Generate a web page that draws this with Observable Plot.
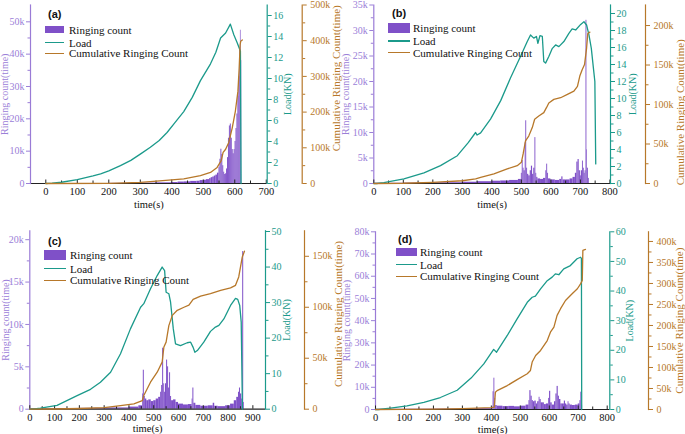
<!DOCTYPE html>
<html><head><meta charset="utf-8">
<script src="https://cdn.jsdelivr.net/npm/d3@7"></script>
<script src="https://cdn.jsdelivr.net/npm/@observablehq/plot@0.6"></script>
<style>
body{margin:0;background:#fff;}
#root{position:relative;width:685px;height:434px;overflow:hidden;font-family:"Liberation Serif",serif;background:#fff;}
.layer{position:absolute;}
.layer svg{overflow:visible;}
.lg{position:absolute;font-size:11px;white-space:nowrap;line-height:12px;height:12px;color:#111;font-family:"Liberation Serif",serif;}
.lab{position:absolute;font-size:11px;font-weight:bold;line-height:12px;font-family:"Liberation Sans",Arial,sans-serif;color:#111;}
.sw{position:absolute;}
</style></head><body><div id="root"></div>
<script>
// ---------- data: panel (a) ----------
const ringTA = [200,250,300,350,400,420,440,460,480,490,500,510,520,525,530,535,540,545,550,553,556,559,562,565,568,571,574,577,580,583,586,589,592,595,598,601,604,607,610,613,616,618,620,622];
const ringVA = [50,80,120,200,300,450,500,650,700,900,1000,1200,1500,1800,2000,2300,2600,3200,5000,7500,10600,9000,5500,3500,2800,3000,4500,8000,14000,17800,18400,14000,10500,9200,10500,13000,17000,21500,27000,33000,42000,47400,38000];
const loadTA = [0,20,50,100,150,174,200,237,270,300,332,360,385,410,438,465,491,523,540,555,571,586,597,608,618,620];
const loadVA = [0,0.03,0.12,0.37,0.72,0.92,1.2,1.7,2.2,2.8,3.45,4.1,4.86,5.8,6.85,8.2,9.8,11.4,12.5,13.85,14.33,15.18,14.17,13.38,12.6,0];
const cumTA = [0,200,250,300,332,400,438,491,523,544,557,563,571,581,592,602,610,614,617,619,621,624];
const cumVA = [0,500,1500,3000,5500,10000,13000,22000,31000,45000,64000,87000,96000,115000,156000,203000,258000,323000,388000,399000,400000,402000];
// ---------- data: panel (b) ----------
const ringTB = [0,100,200,300,350,400,430,460,490,500,503,506,509,513,515,518,521,525,530,534,538,542,546,549,552,556,565,575,583,586,589,592,600,615,630,637,641,650,665,675,683,688,692,696,700,703,707,710,713,716,719,722,724,727,730];
const ringVB = [50,80,150,250,350,450,500,600,800,2000,4500,3000,2500,8000,12300,3000,1800,1500,2500,3400,1800,3000,9000,2000,1200,900,800,1000,2500,3800,2000,900,700,600,800,1300,700,700,900,1200,2000,4200,4700,2500,1500,2500,4400,3000,2000,2500,32000,6600,3000,1000];
const loadTB = [0,10,34,102,170,226,283,320,345,350,362,396,430,463,497,520,531,542,551,556,563,571,576,582,593,605,616,627,644,661,672,684,701,712,721,729,737,744,749,752];
const loadVB = [0,0,0.1,0.55,1.25,2.1,3.27,4.8,6.0,5.7,5.95,7.6,9.75,12.4,14.94,16.7,17.48,17.1,17.3,16.5,17.4,17.3,14.36,14.16,14.94,15.9,16.3,16.1,16.7,17.66,18.18,18.06,18.72,19.03,18.65,17.48,15.9,13.6,12.0,2.3];
const cumTB = [0,100,200,300,345,362,407,452,486,500,506,514,525,537,545,559,576,585,593,610,633,656,678,690,698,706,714,721,725,732];
const cumVB = [0,300,1500,3500,5900,7900,12200,18500,22600,26800,37400,54000,60000,70800,81400,85500,89700,96000,102000,106500,108600,112800,117000,123000,136000,144000,150600,171500,190000,191600];
// ---------- data: panel (c) ----------
const ringTC = [0,100,200,300,400,440,455,458,462,466,472,480,490,500,510,520,528,532,536,540,543,547,552,556,560,564,568,572,580,590,600,620,640,655,658,662,670,690,720,740,746,760,790,810,825,835,842,846,850,855,859,863,866];
const ringVC = [30,60,100,150,250,400,1800,4600,1500,1200,1000,1100,900,1000,1200,1400,2000,2800,7200,3000,2000,3000,5800,5000,2500,4300,1500,1000,1100,800,600,500,550,1200,2500,700,450,350,400,700,350,300,400,600,1000,1400,2000,2500,1800,1200,18600,800];
const loadTC = [0,10,43,110,191,245,285,326,366,406,447,460,487,514,534,544,550,561,568,579,588,608,635,649,659,666,676,702,729,749,763,783,810,830,839,847,853,858];
const loadVC = [0,0,0.3,1.1,3.8,5.6,7.6,10.4,15.6,22.6,28.7,29.7,33.9,37.6,40,39,32.9,32.5,30.1,22.6,18.4,17.9,18.7,18.85,17.4,16.0,16.5,18.85,21.9,23.1,23.6,25.4,29.2,31.2,30.9,29.2,24.5,0];
const cumTC = [0,100,200,300,366,420,454,460,487,514,534,541,550,561,575,595,622,642,659,689,729,770,810,830,843,857,866];
const cumVC = [0,200,700,1500,3600,5300,8500,13500,26500,36300,46200,61000,65800,82000,92000,97000,100000,102000,107700,111000,113400,116600,119000,121500,129700,149000,155000];
// ---------- data: panel (d) ----------
const ringTD = [0,100,200,300,400,406,409,412,415,420,440,460,480,500,520,530,533,537,541,545,550,555,560,565,568,572,577,583,590,598,601,605,610,618,623,627,631,635,640,645,652,656,660,665,668,672,680,690,700,706,709,712,715];
const ringVD = [100,150,200,400,700,8000,14100,5000,1800,1500,1300,1400,1200,1500,2000,4000,8500,6000,4000,3500,3800,2500,3500,5500,4500,3000,3000,2200,2500,5000,8200,3000,2000,3500,7000,10400,6000,4500,2500,2500,3800,2500,2000,3500,2500,2000,1800,2000,2500,4000,7800,2000];
const loadTD = [0,10,52,109,167,224,282,330,374,408,418,455,489,524,541,552,570,593,610,621,633,650,673,696,708,711,712];
const loadVD = [0,0,0.45,1.25,2.4,4.05,6.5,10.6,15.4,20.3,19.35,25,30.6,36.2,37.9,38.25,40.7,43.5,44.7,45.8,45.5,47.5,48.6,50.9,51.4,51.0,0];
const cumTD = [0,100,200,300,400,410,414,420,455,489,524,535,541,553,570,593,604,616,627,639,656,679,697,708,714,716,725];
const cumVD = [0,300,800,2000,4500,5500,41000,45000,57000,71000,85000,93000,113000,128600,140500,164000,184000,196000,224000,240000,259500,275500,287400,299000,307000,378600,381000];

// ---------- tick labels ----------
const xTicksA = [0,100,200,300,400,500,600,700];
const xTicksB = [0,100,200,300,400,500,600,700,800];
const xTicksC = [0,100,200,300,400,500,600,700,800,900];
const xTicksD = [0,100,200,300,400,500,600,700,800];
const ringTicksA = [0,10000,20000,30000,40000,50000];
const ringTicksB = [0,5000,10000,15000,20000,25000,30000,35000];
const ringTicksC = [0,5000,10000,15000,20000];
const ringTicksD = [0,10000,20000,30000,40000,50000,60000,70000,80000];
const loadTicksA = [0,2,4,6,8,10,12,14,16];
const loadTicksB = [0,2,4,6,8,10,12,14,16,18,20];
const loadTicksC = [0,10,20,30,40,50];
const loadTicksD = [0,10,20,30,40,50,60];
const cumTicksA = [0,100000,200000,300000,400000,500000];
const cumTicksB = [0,50000,100000,150000,200000];
const cumTicksC = [0,50000,100000,150000];
const cumTicksD = [0,50000,100000,150000,200000,250000,300000,350000,400000];
const panelLabels = ["(a)","(b)","(c)","(d)"];
const legendNames = ["Ringing count","Load","Cumulative Ringing Count"];
const axisNames = {x:"time(s)", ring:"Ringing count(time)", load:"Load(KN)", cum:"Cumulative Ringing Count(time)"};

// ---------- helpers ----------
const C_BAR = "#7f50c8", C_PAX = "#9a7bd6", C_PTXT = "#9b80d8";
const C_TEAL = "#1b9a8b", C_OR = "#b7782a";
const fmtK = d => d === 0 ? "0" : (d / 1000) + "k";
const halves = (ticks) => ticks.slice(0, -1).map((v, i) => (v + ticks[i + 1]) / 2);
const bars = (t, r) => r.map((v, i) => ({x1: t[i], x2: t[i + 1], y: v}));
const pts = (t, v) => t.map((x, i) => ({x, y: v[i]}));

const panels = [
  {left:0, top:0, w:340, h:217, mL:30, mR:73.3, mR3:38.3, mT:4.5, mB:34, xDom:[-48.6,703],
   xTicks:xTicksA, yR:[0,55200], rTicks:ringTicksA, yL:[0,17], lTicks:loadTicksA, yC:[0,500000], cTicks:cumTicksA,
   ringT:ringTA, ringV:ringVA, loadT:loadTA, loadV:loadVA, cumT:cumTA, cumV:cumVA,
   xLab:24, ringLab:29.5, loadLab:24, cumLab:[34,-16],
   lg:{lab:[48,14], rect:[45,25.7,19,7.6], line:[45,64], tx:69, cy:[29.5,42.7,53.3]}},
  {left:340, top:0, w:345, h:217, mL:33.3, mR:75, mR3:40, mT:4.5, mB:34, xDom:[0,802],
   xTicks:xTicksB, yR:[0,35000], rTicks:ringTicksB, yL:[0,21], lTicks:loadTicksB, yC:[0,226000], cTicks:cumTicksB,
   ringT:ringTB, ringV:ringVB, loadT:loadTB, loadV:loadVB, cumT:cumTB, cumV:cumVB,
   xLab:24, ringLab:31.5, loadLab:25.5, cumLab:[34.5,18],
   lg:{lab:[392,12.7], rect:[388,22.7,22,10], line:[388,410], tx:413, cy:[27.5,41,52.7]}},
  {left:0, top:217, w:340, h:217, mL:29.3, mR:75, mR3:36, mT:13.3, mB:25.3, xDom:[0,951],
   xTicks:xTicksC, yR:[0,21050], rTicks:ringTicksC, yL:[0,50.2], lTicks:loadTicksC, yC:[0,175000], cTicks:cumTicksC,
   ringT:ringTC, ringV:ringVC, loadT:loadTC, loadV:loadVC, cumT:cumTC, cumV:cumVC,
   xLab:23, ringLab:28.3, loadLab:24.5, cumLab:[34,-6],
   lg:{lab:[48,241], rect:[44,250.3,22,9.4], line:[44,66], tx:70, cy:[255,268.7,280.3]}},
  {left:340, top:217, w:345, h:217, mL:35, mR:75.7, mR3:37, mT:14.3, mB:25, xDom:[0,809],
   xTicks:xTicksD, yR:[0,80000], rTicks:ringTicksD, yL:[0,60], lTicks:loadTicksD, yC:[0,423000], cTicks:cumTicksD,
   ringT:ringTD, ringV:ringVD, loadT:loadTD, loadV:loadVD, cumT:cumTD, cumV:cumVD,
   xLab:23, ringLab:32.5, loadLab:23.5, cumLab:[30.5,0],
   lg:{lab:[398,238.7], rect:[396,247.7,21,8.6], line:[396,417], tx:420, cy:[252,264.7,276.3]}}
];

const root = document.getElementById("root");
const baseStyle = {background:"transparent", fontFamily:'"Liberation Serif", serif', fontSize:"10px", overflow:"visible"};
function addLayer(p, opts) {
  const div = document.createElement("div");
  div.className = "layer";
  div.style.left = p.left + "px";
  div.style.top = p.top + "px";
  div.appendChild(Plot.plot(opts));
  root.appendChild(div);
}

panels.forEach((p, i) => {
  const common = {width:p.w, height:p.h, marginLeft:p.mL, marginTop:p.mT, marginBottom:p.mB, style:baseStyle};
  const xMinor = halves(p.xTicks);
  // layer 1: ringing count bars + left axis + x axis
  addLayer(p, {...common, marginRight:p.mR,
    x:{domain:p.xDom}, y:{domain:p.yR},
    marks:[
      Plot.rectY(bars(p.ringT, p.ringV), {x1:"x1", x2:"x2", y:"y", fill:C_BAR}),
      Plot.ruleY([0], {stroke:"#222", strokeWidth:1.2}),
      Plot.frame({anchor:"left", stroke:C_PAX, strokeWidth:1.2}),
      Plot.axisY({anchor:"left", ticks:halves(p.rTicks), tickSize:2.5, tickFormat:() => "", stroke:C_PAX, label:null}),
      Plot.axisY({anchor:"left", ticks:p.rTicks, tickSize:4, tickPadding:2, tickFormat:fmtK, color:C_PTXT, fontSize:10,
        label:axisNames.ring, labelAnchor:"center", labelOffset:p.ringLab, labelArrow:"none"}),
      Plot.axisX({ticks:xMinor, tickSize:-2.5, tickFormat:() => "", stroke:"#222", label:null}),
      Plot.axisX({ticks:p.xTicks, tickSize:-3.5, tickPadding:8, stroke:"#222", fill:"#111", fontSize:10.5,
        label:axisNames.x, labelAnchor:"center", labelOffset:p.xLab, labelArrow:"none"})
    ]});
  // layer 2: load line + right axis
  addLayer(p, {...common, marginRight:p.mR,
    x:{domain:p.xDom, axis:null}, y:{domain:p.yL},
    marks:[
      Plot.line(pts(p.loadT, p.loadV), {x:"x", y:"y", stroke:C_TEAL, strokeWidth:1.3}),
      Plot.frame({anchor:"right", stroke:C_TEAL, strokeWidth:1.2}),
      Plot.axisY({anchor:"right", ticks:halves(p.lTicks), tickSize:2.5, tickFormat:() => "", stroke:C_TEAL, label:null}),
      Plot.axisY({anchor:"right", ticks:p.lTicks, tickSize:4, tickPadding:2, color:C_TEAL, fontSize:10,
        label:axisNames.load, labelAnchor:"center", labelOffset:p.loadLab, labelArrow:"none"})
    ]});
  // layer 3: cumulative line + outer right axis
  addLayer(p, {...common, marginRight:p.mR3,
    x:{domain:p.xDom, range:[p.mL, p.w - p.mR], axis:null}, y:{domain:p.yC, axis:null},
    marks:[
      Plot.line(pts(p.cumT, p.cumV), {x:"x", y:"y", stroke:C_OR, strokeWidth:1.3}),
      Plot.frame({anchor:"right", stroke:C_OR, strokeWidth:1.2}),
      Plot.axisY({anchor:"right", ticks:halves(p.cTicks), tickSize:2.5, tickFormat:() => "", stroke:C_OR, label:null}),
      Plot.axisY({anchor:"right", ticks:p.cTicks, tickSize:4, tickPadding:4, tickFormat:fmtK, color:C_OR, fontSize:10, label:null}),
      Plot.text([axisNames.cum], {text:d => d, frameAnchor:"right", rotate:-90, dx:p.cumLab[0], dy:p.cumLab[1],
        fill:C_OR, fontSize:11, textAnchor:"middle"})
    ]});
  // legend
  const lg = p.lg;
  const lab = document.createElement("div");
  lab.className = "lab"; lab.textContent = panelLabels[i];
  lab.style.left = lg.lab[0] + "px"; lab.style.top = (lg.lab[1] - 6) + "px";
  root.appendChild(lab);
  const rect = document.createElement("div");
  rect.className = "sw";
  Object.assign(rect.style, {left:lg.rect[0]+"px", top:lg.rect[1]+"px", width:lg.rect[2]+"px", height:lg.rect[3]+"px", background:C_BAR});
  root.appendChild(rect);
  [C_TEAL, C_OR].forEach((c, k) => {
    const ln = document.createElement("div");
    ln.className = "sw";
    Object.assign(ln.style, {left:lg.line[0]+"px", top:(lg.cy[k+1]-0.75)+"px", width:(lg.line[1]-lg.line[0])+"px", height:"1.5px", background:c});
    root.appendChild(ln);
  });
  legendNames.forEach((n, k) => {
    const t = document.createElement("div");
    t.className = "lg"; t.textContent = n;
    t.style.left = lg.tx + "px"; t.style.top = (lg.cy[k] - 6) + "px";
    root.appendChild(t);
  });
});
</script></body></html>
